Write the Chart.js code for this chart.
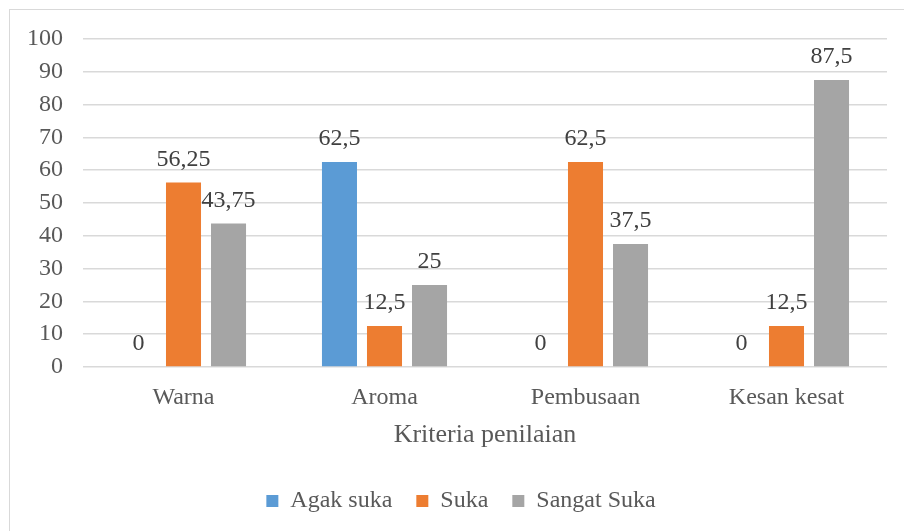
<!DOCTYPE html>
<html>
<head>
<meta charset="utf-8">
<script src="https://cdn.jsdelivr.net/npm/chart.js@4"></script>
<style>
    html, body { margin: 0; padding: 0; background: #fff; }
    #wrap { position: relative; width: 904px; height: 531px; }
</style>
</head>
<body>
<div id="wrap"><canvas id="chart" width="904" height="531"></canvas></div>
<script>
// Chart data
const categories = ['Warna', 'Aroma', 'Pembusaan', 'Kesan kesat'];
const agakSuka = [0, 62.5, 0, 0];
const suka = [56.25, 12.5, 62.5, 12.5];
const sangatSuka = [43.75, 25, 37.5, 87.5];
const yTicks = [0, 10, 20, 30, 40, 50, 60, 70, 80, 90, 100];

const FONT = "'Liberation Serif', 'Times New Roman', serif";

// White background + the light frame around the chart
const framePlugin = {
    id: 'frame',
    beforeDraw(chart) {
        const ctx = chart.ctx;
        ctx.save();
        ctx.fillStyle = '#fff';
        ctx.fillRect(0, 0, chart.width, chart.height);
        ctx.strokeStyle = '#d9d9d9';
        ctx.lineWidth = 1;
        ctx.strokeRect(9.5, 9.5, 1000, 1000);
        ctx.restore();
    }
};

// legend sits a bit right of centre in the original
const legendShift = {
    id: 'legendShift',
    afterLayout(chart) {
        chart.legend.left += 14;
        chart.legend.right += 14;
    }
};

// Value labels above each bar
const valueLabels = {
    id: 'valueLabels',
    afterDatasetsDraw(chart) {
        const ctx = chart.ctx;
        ctx.save();
        ctx.font = '24px ' + FONT;
        ctx.fillStyle = '#404040';
        ctx.textAlign = 'center';
        ctx.textBaseline = 'middle';
        chart.data.datasets.forEach((ds, i) => {
            const meta = chart.getDatasetMeta(i);
            meta.data.forEach((bar, j) => {
                const text = String(ds.data[j]).replace('.', ',');
                ctx.fillText(text, bar.x, bar.y - 23);
            });
        });
        ctx.restore();
    }
};

const ctx = document.getElementById('chart').getContext('2d');
new Chart(ctx, {
    type: 'bar',
    data: {
        labels: categories,
        datasets: [
            { label: 'Agak suka', data: agakSuka, backgroundColor: '#5B9BD5' },
            { label: 'Suka', data: suka, backgroundColor: '#ED7D31' },
            { label: 'Sangat Suka', data: sangatSuka, backgroundColor: '#A5A5A5' }
        ]
    },
    options: {
        responsive: false,
        animation: false,
        categoryPercentage: 0.672,
        barPercentage: 0.778,
        layout: {
            padding: { left: 7, right: 17, top: 39, bottom: 8 }
        },
        plugins: {
            legend: {
                position: 'bottom',
                labels: {
                    boxWidth: 12,
                    boxHeight: 12,
                    padding: 24,
                    color: '#595959',
                    font: { family: FONT, size: 24 }
                }
            },
            tooltip: { enabled: false }
        },
        scales: {
            x: {
                grid: { display: false },
                border: { display: false },
                ticks: {
                    color: '#595959',
                    padding: 8,
                    font: { family: FONT, size: 24 }
                },
                title: {
                    display: true,
                    text: 'Kriteria penilaian',
                    color: '#595959',
                    padding: { top: 0, bottom: 14 },
                    font: { family: FONT, size: 26 }
                }
            },
            y: {
                min: 0,
                max: 100,
                afterBuildTicks(scale) {
                    scale.ticks = yTicks.map(v => ({ value: v }));
                },
                grid: { color: '#d9d9d9', lineWidth: 1.5, drawTicks: false },
                border: { display: false },
                ticks: {
                    autoSkip: false,
                    color: '#595959',
                    padding: 20,
                    font: { family: FONT, size: 24 }
                }
            }
        }
    },
    plugins: [framePlugin, legendShift, valueLabels]
});
</script>
</body>
</html>
